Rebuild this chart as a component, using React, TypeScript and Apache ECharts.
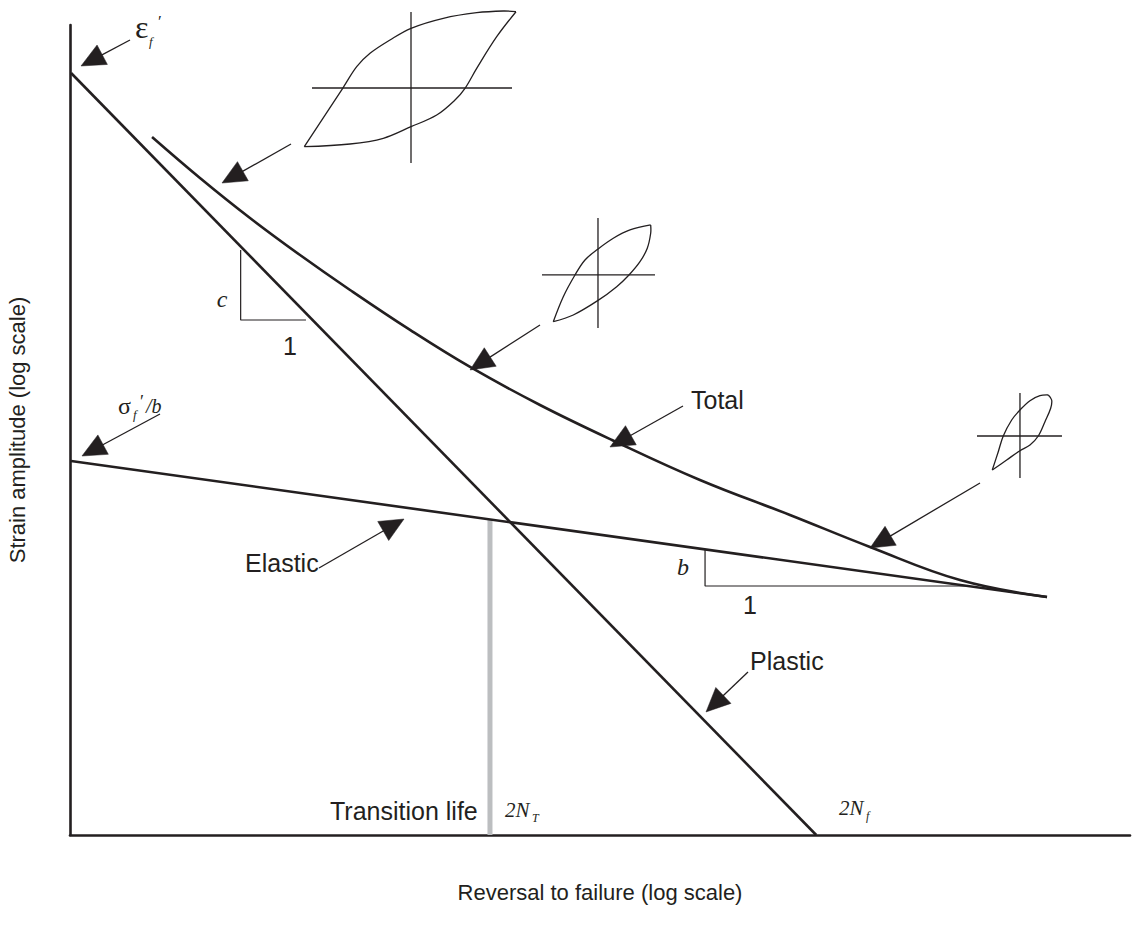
import React, { useEffect, useRef } from "react";
import * as echarts from "echarts";

// Abstract log-log coordinates: x = log(reversals to failure), y = log(strain amplitude)
const plasticLine: number[][] = [[0.01, 9.407], [7.04, 0]];
const elasticLine: number[][] = [[0.01, 4.617], [9.217, 2.938]];
const totalCurve: number[][] = [
  [0.774, 8.617], [1.226, 8.111], [1.698, 7.617], [2.17, 7.16], [2.642, 6.728],
  [3.208, 6.235], [3.774, 5.778], [4.434, 5.309], [5.113, 4.877], [5.943, 4.383],
  [6.792, 3.951], [7.547, 3.556], [8.396, 3.148], [9.217, 2.938],
];
const transitionLine: number[][] = [[3.962, 0], [3.962, 3.889]];
const slopeTriangleC: number[][] = [[1.61, 7.222], [1.61, 6.358], [2.226, 6.358]];
const slopeTriangleB: number[][] = [[5.991, 3.519], [5.991, 3.074], [8.491, 3.074]];
// [tailX, tailY, tipX, tipY]
const arrowSegments: number[][] = [
  [0.566, 9.815, 0.104, 9.494],
  [2.085, 8.531, 1.434, 8.049],
  [0.849, 5.198, 0.113, 4.679],
  [4.434, 6.296, 3.774, 5.741],
  [5.783, 5.296, 5.094, 4.79],
  [8.585, 4.346, 7.547, 3.543],
  [2.349, 3.296, 3.151, 3.901],
  [6.396, 2.012, 6.0, 1.519],
];
// [x, y, glyph index] : centres of the hysteresis-loop sketches
const loopAnchors: number[][] = [[3.217, 9.222, 0], [4.981, 6.914, 1], [8.962, 4.926, 2]];

// Loop sketch glyphs (pixel offsets from the crosshair centre)
const LOOP_GLYPHS = [
  {
    h: [-99, 101], v: [-76, 75],
    upper: [[-106.7, 58.7], [-68.3, 0.3], [-54.3, -21.3], [-41, -34.7], [-21, -48], [0, -59.7], [32.3, -69.7], [65.7, -75.3], [92.3, -77], [105, -76.3]],
    lower: [[-106.7, 58.7], [-61, 56], [-27.7, 50.3], [0, 38.7], [25.7, 27], [44, 12], [54, 0.3], [65.7, -19.7], [85.7, -51.3], [105, -76.3]],
  },
  {
    h: [-56, 57], v: [-57, 53],
    upper: [[-44.7, 46.7], [-34.7, 21.7], [-23, 0], [-13, -15], [-0.3, -25.7], [15.3, -36.7], [32, -45], [52.7, -50]],
    lower: [[-44.7, 46.7], [-24.7, 40], [-0.3, 25.7], [18.7, 11.7], [31, 0], [42, -13.3], [49.3, -26.7], [52.7, -41.7], [52.7, -50]],
  },
  {
    h: [-43, 42], v: [-43, 42],
    upper: [[-27.7, 34], [-21.7, 15.7], [-16.7, 0], [-8.3, -16], [0, -26], [10, -35.3], [20, -40.3], [28.3, -41]],
    lower: [[28.3, -41], [31.7, -36], [30.7, -27.7], [25, -14.3], [18.3, 0], [10, 9], [0, 14.7], [-13.3, 24], [-27.7, 34]],
  },
];

const INK = "#231f20";
const SANS = "'Liberation Sans', Arial, Helvetica, sans-serif";
const SERIF = "'Liberation Serif', 'Times New Roman', serif";

function txt(text: string, x: number, y: number, size: number, family: string, opts: any = {}) {
  const align = opts.align || "left";
  return {
    type: "text",
    x,
    y,
    silent: true,
    style: {
      text,
      fontSize: size,
      fontFamily: family,
      fontStyle: opts.italic ? "italic" : "normal",
      fill: INK,
      align,
      verticalAlign: "middle",
      textAlign: align,
      textVerticalAlign: "middle",
    },
  };
}

export default function App() {
  const ref = useRef<HTMLDivElement>(null);
  useEffect(() => {
    document.body.style.margin = "0";
    const chart = echarts.init(ref.current!, undefined, { renderer: "svg" });
    const thick = { color: INK, width: 2.6 };
    const thin = { color: INK, width: 1.2 };
    const lineSeries = (data: number[][], lineStyle: any, extra: any = {}) => ({
      type: "line",
      data,
      symbol: "none",
      lineStyle,
      silent: true,
      clip: false,
      ...extra,
    });
    chart.setOption({
      animation: false,
      backgroundColor: "#ffffff",
      grid: { left: 70, right: 5, top: 25, bottom: 90, containLabel: false, outerBoundsMode: "none" },
      xAxis: {
        type: "value",
        min: 0,
        max: 10,
        name: "Reversal to failure (log scale)",
        nameLocation: "middle",
        nameGap: 46,
        nameTextStyle: { fontFamily: SANS, fontSize: 22, color: INK },
        axisLine: { show: true, onZero: false, lineStyle: { color: INK, width: 2.6 } },
        axisTick: { show: false },
        axisLabel: { show: false },
        splitLine: { show: false },
      },
      yAxis: {
        type: "value",
        min: 0,
        max: 10,
        name: "Strain amplitude (log scale)",
        nameLocation: "middle",
        nameGap: 42,
        nameRotate: 90,
        nameTextStyle: { fontFamily: SANS, fontSize: 22, color: INK },
        axisLine: { show: true, onZero: false, lineStyle: { color: INK, width: 2.6 } },
        axisTick: { show: false },
        axisLabel: { show: false },
        splitLine: { show: false },
      },
      series: [
        lineSeries(transitionLine, { color: "#bcbec0", width: 5 }),
        lineSeries(plasticLine, thick),
        lineSeries(elasticLine, thick),
        lineSeries(totalCurve, thick, { smooth: 0.4 }),
        lineSeries(slopeTriangleC, thin),
        lineSeries(slopeTriangleB, thin),
        {
          type: "custom",
          data: arrowSegments,
          encode: { x: [0, 2], y: [1, 3] },
          clip: false,
          silent: true,
          renderItem: (_p: any, api: any) => {
            const a = api.coord([api.value(0), api.value(1)]);
            const b = api.coord([api.value(2), api.value(3)]);
            const dx = b[0] - a[0];
            const dy = b[1] - a[1];
            const len = Math.sqrt(dx * dx + dy * dy);
            const ux = dx / len;
            const uy = dy / len;
            const L = 24;
            const W = 11;
            const bx = b[0] - ux * L;
            const by = b[1] - uy * L;
            return {
              type: "group",
              children: [
                { type: "line", shape: { x1: a[0], y1: a[1], x2: bx + ux * 4, y2: by + uy * 4 }, style: { stroke: INK, lineWidth: 1.3 } },
                {
                  type: "polygon",
                  shape: { points: [[b[0], b[1]], [bx - uy * W, by + ux * W], [bx + uy * W, by - ux * W]] },
                  style: { fill: INK, stroke: INK, lineWidth: 0.5 },
                },
              ],
            };
          },
        },
        {
          type: "custom",
          data: loopAnchors,
          encode: { x: 0, y: 1 },
          clip: false,
          silent: true,
          renderItem: (_p: any, api: any) => {
            const c = api.coord([api.value(0), api.value(1)]);
            const g = LOOP_GLYPHS[api.value(2)];
            const tr = (pts: number[][]) => pts.map((p) => [c[0] + p[0], c[1] + p[1]]);
            const st = { stroke: INK, lineWidth: 1.3, fill: null };
            return {
              type: "group",
              children: [
                { type: "line", shape: { x1: c[0] + g.h[0], y1: c[1], x2: c[0] + g.h[1], y2: c[1] }, style: st },
                { type: "line", shape: { x1: c[0], y1: c[1] + g.v[0], x2: c[0], y2: c[1] + g.v[1] }, style: st },
                { type: "polyline", shape: { points: tr(g.upper), smooth: 0.35 }, style: st },
                { type: "polyline", shape: { points: tr(g.lower), smooth: 0.35 }, style: st },
              ],
            };
          },
        },
      ],
      graphic: [
        txt("ε", 135, 27, 32, SERIF),
        txt("f", 149, 41, 13, SERIF, { italic: true }),
        txt("′", 158, 21, 17, SERIF),
        txt("σ", 118, 406, 24, SERIF),
        txt("f", 133, 414, 13, SERIF, { italic: true }),
        txt("′", 140, 402, 18, SERIF),
        txt("/b", 146, 406, 20, SERIF, { italic: true }),
        txt("c", 222, 299, 24, SERIF, { italic: true, align: "center" }),
        txt("1", 290, 346, 25, SANS, { align: "center" }),
        txt("b", 683, 567, 24, SERIF, { italic: true, align: "center" }),
        txt("1", 750, 605, 25, SANS, { align: "center" }),
        txt("Total", 691, 400, 25, SANS),
        txt("Elastic", 245, 563, 25, SANS),
        txt("Plastic", 750, 661, 25, SANS),
        txt("Transition life", 330, 811, 25, SANS),
        txt("2N", 505, 810, 21, SERIF, { italic: true }),
        txt("T", 532, 818, 12, SERIF, { italic: true }),
        txt("2N", 839, 808, 21, SERIF, { italic: true }),
        txt("f", 866, 816, 12, SERIF, { italic: true }),
      ],
    });
    return () => chart.dispose();
  }, []);
  return <div ref={ref} style={{ width: 1135, height: 925 }} />;
}
